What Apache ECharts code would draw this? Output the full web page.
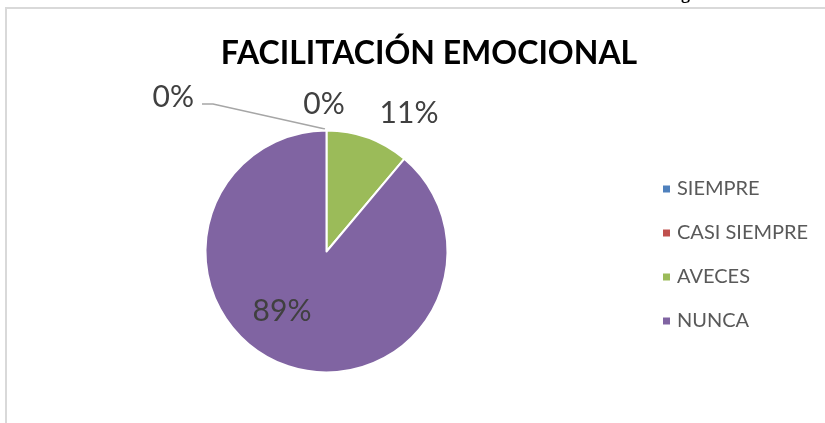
<!DOCTYPE html>
<html>
<head>
    <meta charset="utf-8">
    <title>Facilitación emocional</title>
    <script src="https://cdn.jsdelivr.net/npm/echarts@6/dist/echarts.min.js"></script>
    <style>
        html, body { margin: 0; padding: 0; background: #fff; }
    </style>
</head>
<body>
    <div id="main" style="width: 825px;height:423px;"></div>
    <script type="text/javascript">
    // datos del grafico
    var categorias = ['SIEMPRE', 'CASI SIEMPRE', 'AVECES', 'NUNCA'];
    var valores = [0, 0, 1, 8];
    var colores = ['#4f81bd', '#c0504d', '#9bbb59', '#8064a2'];
    var titulo = 'FACILITACIÓN EMOCIONAL';

    // posiciones de las etiquetas como en el original (Excel)
    var posEtiquetas = [
        { x: 194, y: 97, align: 'right' },
        { x: 324, y: 104, align: 'center' },
        { x: 409, y: 113, align: 'center' },
        { x: 282, y: 311, align: 'center' }
    ];

    var myChart = echarts.init(document.getElementById('main'));

    var datos = categorias.map(function (c, i) {
        var d = { name: c, value: valores[i], itemStyle: { color: colores[i] } };
        if (i === 0) {
            d.labelLine = { show: true };
        }
        return d;
    });

    var option = {
        animation: false,
        title: {
            text: titulo,
            left: 424,
            top: 33,
            textAlign: 'center',
            textStyle: {
                fontFamily: 'Lato',
                fontWeight: 'bold',
                fontSize: 32,
                color: '#000'
            }
        },
        legend: {
            orient: 'vertical',
            left: 656,
            top: 174,
            itemWidth: 9,
            itemHeight: 9,
            itemGap: 24,
            icon: 'rect',
            data: categorias,
            textStyle: {
                fontFamily: 'Lato',
                fontSize: 20,
                color: '#595959',
                padding: [0, 0, 0, 1]
            }
        },
        graphic: [
            {
                type: 'rect',
                shape: { x: 6, y: 8, width: 900, height: 500 },
                style: { fill: 'none', stroke: '#d9d9d9', lineWidth: 2 },
                silent: true
            },
            {
                type: 'text',
                left: 681,
                top: -15,
                style: {
                    text: 'g',
                    font: 'bold 18px "Liberation Serif"',
                    fill: '#000'
                }
            }
        ],
        series: [
            {
                type: 'pie',
                center: [326.5, 251.5],
                radius: 121,
                startAngle: 90,
                clockwise: true,
                percentPrecision: 0,
                avoidLabelOverlap: false,
                data: datos,
                itemStyle: {
                    borderColor: '#fff',
                    borderWidth: 2
                },
                label: {
                    show: true,
                    formatter: '{d}%',
                    fontFamily: 'Lato',
                    fontSize: 30,
                    color: '#404040'
                },
                labelLine: {
                    show: false,
                    lineStyle: { color: '#a6a6a6', width: 1.5 }
                },
                labelLayout: function (params) {
                    var p = posEtiquetas[params.dataIndex];
                    var res = {
                        x: p.x,
                        y: p.y,
                        align: p.align,
                        verticalAlign: 'middle'
                    };
                    if (params.dataIndex === 0) {
                        res.labelLinePoints = [[325, 129], [213, 104], [202, 104]];
                    }
                    return res;
                },
                emphasis: { disabled: true }
            }
        ]
    };

    myChart.setOption(option);
    </script>
</body>
</html>
